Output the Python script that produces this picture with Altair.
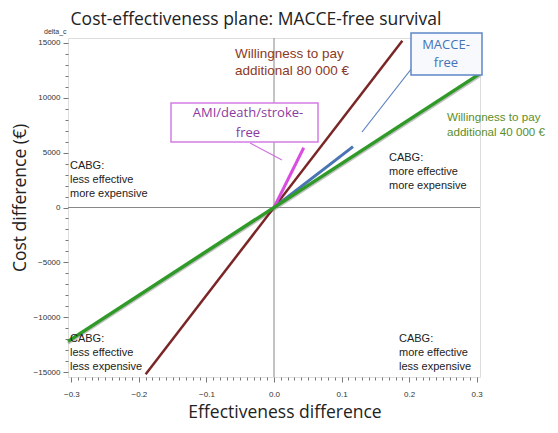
import altair as alt
import pandas as pd

# ---- data ----
wtp80_eff = [-0.19, 0.19]
wtp80_cost = [-15200, 15200]
wtp40_eff = [-0.305, 0.305]
wtp40_cost = [-12200, 12200]
macce_eff = [0.0, 0.117]
macce_cost = [0, 5550]
ami_eff = [0.0, 0.044]
ami_cost = [0, 5450]

x_ticks = [round(i / 100, 2) for i in range(-30, 31)]
y_ticks = [i * 1000 for i in range(-15, 16)]

W, H = 412, 339
OX, OY = 68, 38  # plot origin on page

xs = alt.Scale(domain=[-0.305, 0.305], nice=False, zero=False)
ys = alt.Scale(domain=[-15450, 15450], nice=False, zero=False)

FONT = "Liberation Sans"
TITLE_FONT = "Open Sans"

XMAJ = "abs(datum.value*10 - round(datum.value*10)) < 0.001"
YMAJ = "abs(datum.value % 5000) < 1"

x_axis = alt.Axis(values=x_ticks, title=None, grid=False, domain=False,
                  labelExpr=XMAJ + " ? format(datum.value, '.1f') : ''",
                  labelOverlap=False, labelFont=FONT, labelFontSize=8, labelColor="#333",
                  tickColor="#777", labelPadding=8, labelFlush=False,
                  tickSize={"condition": {"test": XMAJ, "value": 5}, "value": 3})
y_axis = alt.Axis(values=y_ticks, title=None, grid=False, domain=False,
                  labelExpr=YMAJ + " ? format(datum.value, 'd') : ''",
                  labelOverlap=False, labelFont=FONT, labelFontSize=8, labelColor="#333",
                  tickColor="#777", labelPadding=3, labelFlush=False,
                  tickSize={"condition": {"test": YMAJ, "value": 5}, "value": 3})

def line_df(ex, cy):
    return pd.DataFrame({"eff": ex, "cost": cy})

zero_df = pd.DataFrame({"v": [0]})
vrule = alt.Chart(zero_df).mark_rule(color="#888", strokeWidth=1).encode(
    x=alt.X("v:Q", scale=xs, axis=x_axis))
hrule = alt.Chart(zero_df).mark_rule(color="#888", strokeWidth=1).encode(
    y=alt.Y("v:Q", scale=ys, axis=y_axis))

def ln(ex, cy, color, width, **kw):
    return alt.Chart(line_df(ex, cy)).mark_line(color=color, strokeWidth=width, **kw).encode(
        x=alt.X("eff:Q", scale=xs, axis=x_axis), y=alt.Y("cost:Q", scale=ys, axis=y_axis))

shadow40 = ln(wtp40_eff, wtp40_cost, "#9a9a9a", 3, yOffset=2, opacity=0.6)
green = ln(wtp40_eff, wtp40_cost, "#2f9a28", 3.5)
brown = ln(wtp80_eff, wtp80_cost, "#7a2626", 2.5)
blue = ln(macce_eff, macce_cost, "#4a74b4", 3)
pink = ln(ami_eff, ami_cost, "#d94ee0", 3)

one = pd.DataFrame({"t": [""]})

def txt(text, px, py, size, color, font=FONT, align="left", angle=0, lh=None, baseline="middle"):
    kw = dict(align=align, baseline=baseline, fontSize=size, color=color, font=font, angle=angle)
    if "\n" in text:
        kw["lineBreak"] = "\n"
        kw["lineHeight"] = lh or size * 1.2
    return alt.Chart(pd.DataFrame({"t": [text]})).mark_text(**kw).encode(
        x=alt.value(px - OX), y=alt.value(py - OY), text="t:N")

def rect(x0, y0, x1, y1, stroke, fill, sw=1.2):
    return alt.Chart(one).mark_rect(stroke=stroke, fill=fill, strokeWidth=sw).encode(
        x=alt.value(x0 - OX), y=alt.value(y0 - OY), x2=alt.value(x1 - OX), y2=alt.value(y1 - OY))

def seg(x0, y0, x1, y1, color, sw=1.2):
    return alt.Chart(one).mark_rule(color=color, strokeWidth=sw).encode(
        x=alt.value(x0 - OX), y=alt.value(y0 - OY), x2=alt.value(x1 - OX), y2=alt.value(y1 - OY))

layers = [
    vrule, hrule, shadow40, brown, blue, pink, green,
    seg(362, 132, 412, 68, "#5a80c0", 1.2),
    rect(411, 33, 482, 75, "#5f86c6", "#f7f9fd", 1.5),
    txt("MACCE-\nfree", 446, 45, 13, "#4673b6", font=TITLE_FONT, align="center", lh=18),
    seg(282, 160, 250, 143, "#d070e0", 1.2),
    rect(171, 103, 318, 142, "#d57ce3", "#ffffff", 1.5),
    txt("AMI/death/stroke-\nfree", 248, 113, 13, "#8b3a9f", font=TITLE_FONT, align="center", lh=20),
    txt("Willingness to pay\nadditional 80 000 €", 235, 54, 13.5, "#8a3a26", lh=17),
    txt("Willingness to pay\nadditional 40 000 €", 447, 118, 11.6, "#5b8e2a", lh=15),
    txt("CABG:\nless effective\nmore expensive", 70, 166, 11, "#222", lh=14),
    txt("CABG:\nless effective\nless expensive", 70, 339, 11, "#222", lh=14),
    txt("CABG:\nmore effective\nmore expensive", 389, 158, 11, "#222", lh=14),
    txt("CABG:\nmore effective\nless expensive", 399, 339, 11, "#222", lh=14),
    txt("Cost-effectiveness plane: MACCE-free survival", 256, 20, 17.5, "#222",
        font=TITLE_FONT, align="center", baseline="middle"),
    txt("Effectiveness difference", 285, 413, 17.5, "#222", font=TITLE_FONT, align="center"),
    txt("Cost difference (€)", 12, 198, 17.5, "#222", font=TITLE_FONT, align="center",
        angle=270, baseline="top"),
    txt("delta_c", 44, 32, 7, "#333"),
]

chart = alt.layer(*layers).properties(
    width=W, height=H,
    autosize=alt.AutoSizeParams(type="none"),
    padding={"left": 60, "top": 30, "right": 70, "bottom": 48},
).configure_view(stroke="#888", strokeWidth=1.2).configure(background="white")

chart.save("out.html", embed_options={"renderer": "svg", "actions": False})
